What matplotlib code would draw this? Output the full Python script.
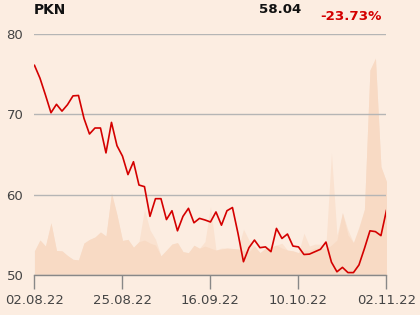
import matplotlib
matplotlib.use("Agg")
import matplotlib.pyplot as plt
import numpy as np

# ---- data ----
ticker = "PKN"
last_price = "58.04"
change = "-23.73%"

tick_idx = [0, 16, 32, 48, 64]
tick_labels = ["02.08.22", "25.08.22", "16.09.22", "10.10.22", "02.11.22"]
y_ticks = [50, 60, 70, 80]

price = [76.10, 74.5, 72.4, 70.2, 71.25, 70.4, 71.2, 72.3, 72.35, 69.5,
         67.55, 68.3, 68.3, 65.2, 69.0, 66.1, 64.8, 62.5, 64.1, 61.2,
         61.0, 57.3, 59.5, 59.5, 56.9, 58.0, 55.5, 57.3, 58.3, 56.5,
         57.05, 56.85, 56.6, 57.85, 56.2, 58.0, 58.4, 55.2, 51.65, 53.4,
         54.35, 53.4, 53.5, 52.9, 55.8, 54.55, 55.1, 53.6, 53.5, 52.55,
         52.6, 52.9, 53.2, 54.1, 51.6, 50.4, 50.95, 50.3, 50.3, 51.25,
         53.3, 55.5, 55.4, 54.9, 58.04]

# volume (millions), outer envelope
vol_hi = [1.20, 1.74, 1.44, 2.60, 1.22, 1.20, 0.97, 0.78, 0.75, 1.59,
          1.77, 1.89, 2.14, 1.94, 4.08, 2.99, 1.72, 1.77, 1.38, 1.66,
          3.27, 2.24, 1.78, 0.95, 1.24, 1.54, 1.61, 1.16, 1.11, 1.48,
          1.33, 1.66, 3.40, 1.24, 1.34, 1.34, 1.32, 1.29, 2.28, 1.74,
          1.44, 1.11, 1.33, 1.39, 1.49, 1.58, 1.24, 1.20, 1.11, 2.08,
          1.44, 1.54, 1.53, 1.49, 6.07, 1.99, 3.10, 2.24, 1.61, 2.40,
          3.27, 10.21, 10.79, 5.39, 4.65]
# inner (darker) layer
vol_lo = [1.20, 1.74, 1.44, 2.60, 1.22, 1.20, 0.97, 0.78, 0.75, 1.59,
          1.77, 1.89, 2.14, 1.94, 4.08, 2.99, 1.72, 1.77, 1.38, 1.66,
          1.74, 1.59, 1.49, 0.95, 1.24, 1.54, 1.61, 1.16, 1.11, 1.48,
          1.33, 1.44, 1.34, 1.24, 1.29, 1.34, 1.32, 1.29, 1.20, 1.15,
          1.44, 1.11, 1.33, 1.39, 1.49, 1.34, 1.24, 1.20, 1.11, 1.24,
          1.24, 1.34, 1.34, 1.29, 1.49, 1.74, 3.10, 1.99, 1.61, 2.34,
          3.27, 10.21, 10.79, 5.39, 4.65]

BG = "#FCEDE1"
fig = plt.figure(figsize=(4.2, 3.15), dpi=100, facecolor=BG)
ax = fig.add_axes([0.0821, 0.127, 0.838, 0.765])
ax.set_facecolor(BG)

x = np.arange(len(price))

axv = ax.twinx()
axv.fill_between(x, 0, vol_hi, color="#FAE2D0", lw=0, zorder=1)
axv.fill_between(x, 0, vol_lo, color="#F8DAC4", lw=0, zorder=2)
axv.set_ylim(0, 12)
axv.set_yticks([])
for s in axv.spines.values():
    s.set_visible(False)

# put price axes on top of volume axes
ax.set_zorder(axv.get_zorder() + 1)
ax.patch.set_visible(False)
axv.patch.set_visible(False)
fig.patch.set_facecolor(BG)

ax.set_xlim(0, len(price) - 1)
ax.set_ylim(50, 80)
ax.set_yticks(y_ticks)
ax.yaxis.grid(True, color="#B5B5B5", lw=1.0)
ax.set_axisbelow(True)
ax.plot(x, price, color="#D40000", lw=1.2, zorder=5)

ax.set_xticks(tick_idx)
ax.set_xticklabels(tick_labels)
for s in ["top", "right", "left"]:
    ax.spines[s].set_visible(False)
ax.spines["bottom"].set_color("#888888")
ax.spines["bottom"].set_linewidth(1.0)
ax.tick_params(axis="x", length=10, width=1, color="#888888", labelsize=9.5,
               labelcolor="#444444", pad=4)
ax.tick_params(axis="y", length=0, labelsize=9.5, labelcolor="#444444", pad=8)

fig.text(0.081, 0.968, ticker, fontsize=9.9, fontweight="bold", color="#111111",
         ha="left", va="center")
fig.text(0.667, 0.970, last_price, fontsize=9.6, fontweight="bold", color="#111111",
         ha="center", va="center")
fig.text(0.836, 0.948, change, fontsize=9.6, fontweight="bold", color="#D40000",
         ha="center", va="center")

fig.savefig("out.png", dpi=100, facecolor=BG)
